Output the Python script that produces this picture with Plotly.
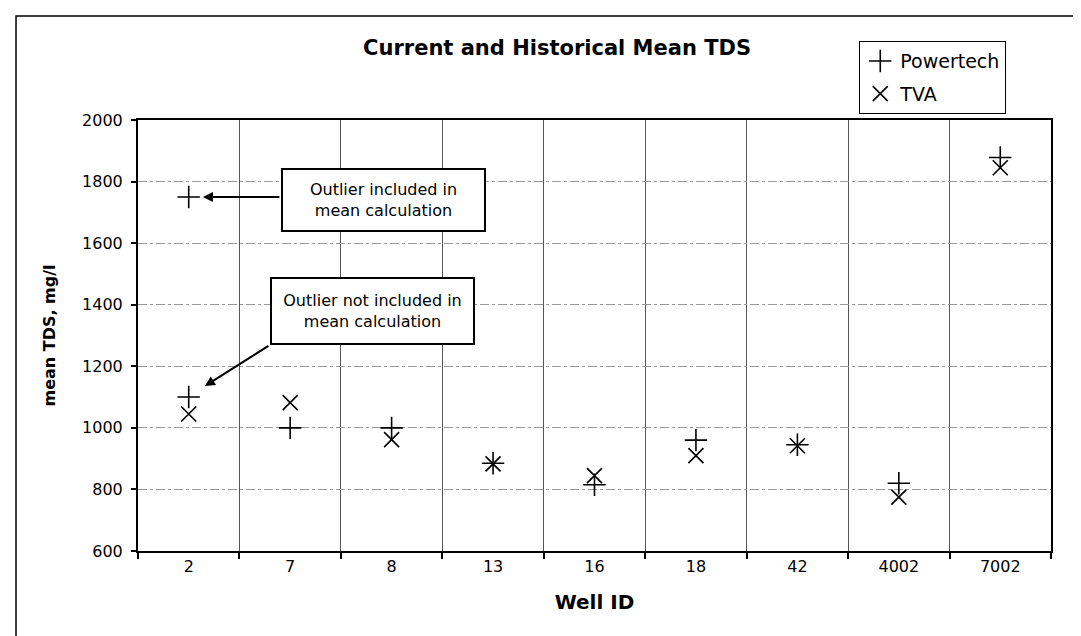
import plotly.graph_objects as go

wells = ["2", "7", "8", "13", "16", "18", "42", "4002", "7002"]
powertech_x = ["2", "2", "7", "8", "13", "16", "18", "42", "4002", "7002"]
powertech_y = [1750, 1100, 1000, 1000, 885, 815, 960, 945, 820, 1878]
tva_x = ["2", "7", "8", "13", "16", "18", "42", "4002", "7002"]
tva_y = [1045, 1082, 962, 883, 845, 910, 942, 775, 1845]
y_ticks = [600, 800, 1000, 1200, 1400, 1600, 1800, 2000]

FONT = "DejaVu Sans, Arial, sans-serif"

fig = go.Figure()
fig.add_trace(go.Scatter(
    x=powertech_x, y=powertech_y, mode="markers", name="Powertech",
    legendgroup="a",
    marker=dict(symbol="cross-thin", size=16, color="black",
                line=dict(color="black", width=1.6)),
))
fig.add_trace(go.Scatter(
    x=tva_x, y=tva_y, mode="markers", name="TVA",
    legendgroup="b",
    marker=dict(symbol="x-thin", size=15, color="black",
                line=dict(color="black", width=1.6)),
))

annotations = [
    dict(x=0.14, y=1750, xref="x", yref="y", text="", showarrow=True,
         ax=78, ay=0, arrowhead=2, arrowsize=1, arrowwidth=2, arrowcolor="black"),
    dict(x=0.16, y=1136, xref="x", yref="y", text="", showarrow=True,
         ax=65, ay=-41, arrowhead=2, arrowsize=1, arrowwidth=2, arrowcolor="black"),
    dict(x=0.2689, y=0.8144, xref="paper", yref="paper",
         text="Outlier included in<br>mean calculation", showarrow=False,
         font=dict(family=FONT, size=16, color="black"),
         bordercolor="black", borderwidth=2, borderpad=4, bgcolor="white",
         width=193, height=52, xanchor="center", yanchor="middle"),
    dict(x=0.2568, y=0.558, xref="paper", yref="paper",
         text="Outlier not included in<br>mean calculation", showarrow=False,
         font=dict(family=FONT, size=16, color="black"),
         bordercolor="black", borderwidth=2, borderpad=4, bgcolor="white",
         width=193, height=56, xanchor="center", yanchor="middle"),
]

shapes = [
    dict(type="rect", xref="paper", yref="paper", x0=-0.1336, x1=1.2, y0=-0.4, y1=1.2413,
         line=dict(color="black", width=1.5), fillcolor="rgba(0,0,0,0)", layer="below"),
]

fig.update_layout(
    width=1081, height=636,
    margin=dict(l=130, r=38, t=112, b=93),
    paper_bgcolor="white", plot_bgcolor="white",
    font=dict(family=FONT, color="black", size=16),
    title=dict(text="<b>Current and Historical Mean TDS</b>", x=0.459, xref="paper",
               xanchor="center", y=0.937, yanchor="middle",
               font=dict(family=FONT, size=21, color="black")),
    showlegend=True,
    legend=dict(x=0.79, y=1.183, xanchor="left", yanchor="top",
                bordercolor="black", borderwidth=1, bgcolor="white",
                font=dict(family=FONT, size=19, color="black"),
                itemwidth=30, traceorder="grouped", tracegroupgap=5),
    xaxis=dict(type="category", categoryorder="array", categoryarray=wells,
               tickson="boundaries", ticks="outside", ticklen=6, tickwidth=1.5,
               tickcolor="black", showgrid=True, gridcolor="#555", gridwidth=1,
               showline=True, linecolor="black", linewidth=2, mirror=True,
               tickfont=dict(family=FONT, size=16, color="black"),
               title=dict(text="<b>Well ID</b>", standoff=20,
                          font=dict(family=FONT, size=20, color="black")),
               zeroline=False, range=[-0.5, 8.5]),
    yaxis=dict(range=[600, 2000], tickvals=y_ticks, ticks="outside", ticklen=5,
               tickwidth=1.5, tickcolor="black", showgrid=True, gridcolor="#999",
               gridwidth=1, griddash="dashdot", showline=True, linecolor="black",
               linewidth=2, mirror=True, zeroline=False, ticklabelstandoff=5,
               tickfont=dict(family=FONT, size=16, color="black"),
               title=dict(text="<b>mean TDS, mg/l</b>", standoff=22,
                          font=dict(family=FONT, size=16, color="black"))),
    annotations=annotations,
    shapes=shapes,
)

fig.write_html("out.html")
